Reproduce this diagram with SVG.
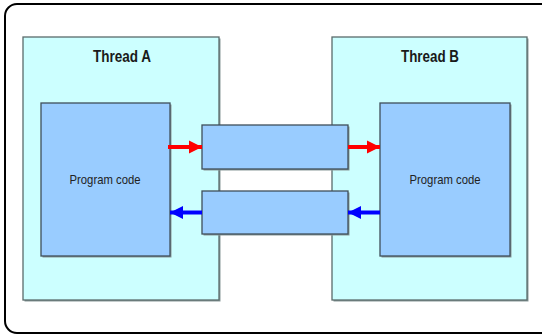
<svg xmlns="http://www.w3.org/2000/svg" width="542" height="335" viewBox="0 0 542 335">
  <style>
    .frame { fill: #ffffff; stroke: #000000; stroke-width: 2; }
    .thread { fill: #ccffff; stroke: #5a6b6b; stroke-width: 1.3; }
    .code { fill: #99ccff; stroke: #3f4f5a; stroke-width: 1.3; }
    .shadow { fill: #8a9a9a; }
    .title { font-family: "Liberation Sans", Arial, sans-serif; font-weight: bold; font-size: 16px; fill: #1a1a1a; text-anchor: middle; }
    .label { font-family: "Liberation Sans", Arial, sans-serif; font-size: 13px; fill: #222222; text-anchor: middle; }
    .red { stroke: #ff0000; stroke-width: 4; fill: none; }
    .blue { stroke: #0000ff; stroke-width: 4; fill: none; }
  </style>
  <defs>
    <marker id="headRed" viewBox="0 0 10 10" refX="10" refY="5" markerUnits="userSpaceOnUse" markerWidth="13" markerHeight="17" orient="auto">
      <path d="M0,0 L10,5 L0,10 z" fill="#ff0000"/>
    </marker>
    <marker id="headBlue" viewBox="0 0 10 10" refX="10" refY="5" markerUnits="userSpaceOnUse" markerWidth="13" markerHeight="17" orient="auto">
      <path d="M0,0 L10,5 L0,10 z" fill="#0000ff"/>
    </marker>
  </defs>

  <!-- outer frame -->
  <rect class="frame" x="5" y="4" width="550" height="329" rx="12" ry="12"/>

  <g id="threadA">
    <rect class="shadow" x="24.5" y="38.5" width="196" height="263"/>
    <rect class="thread" x="23" y="37" width="196" height="263"/>
    <text class="title" x="122" y="62" textLength="58" lengthAdjust="spacingAndGlyphs">Thread A</text>
  </g>

  <g id="threadB">
    <rect class="shadow" x="333.5" y="38.5" width="195" height="263"/>
    <rect class="thread" x="332" y="37" width="195" height="263"/>
    <text class="title" x="430" y="62" textLength="58" lengthAdjust="spacingAndGlyphs">Thread B</text>
  </g>

  <g id="codeA">
    <rect class="shadow" x="42.5" y="104.5" width="129" height="153"/>
    <rect class="code" x="41" y="103" width="129" height="153"/>
    <text class="label" x="105" y="184" textLength="71" lengthAdjust="spacingAndGlyphs">Program code</text>
  </g>

  <g id="codeB">
    <rect class="shadow" x="381.5" y="104.5" width="130" height="153"/>
    <rect class="code" x="380" y="103" width="130" height="153"/>
    <text class="label" x="445" y="184" textLength="71" lengthAdjust="spacingAndGlyphs">Program code</text>
  </g>

  <g id="queueAB">
    <rect class="shadow" x="203.5" y="126.5" width="146" height="44"/>
    <rect class="code" x="202" y="125" width="146" height="44"/>
  </g>

  <g id="queueBA">
    <rect class="shadow" x="203.5" y="192.5" width="146" height="43"/>
    <rect class="code" x="202" y="191" width="146" height="43"/>
  </g>

  <g id="connectors">
    <line class="red" x1="168" y1="147" x2="202" y2="147" marker-end="url(#headRed)"/>
    <line class="red" x1="348" y1="147" x2="380" y2="147" marker-end="url(#headRed)"/>
    <line class="blue" x1="380" y1="212.5" x2="348" y2="212.5" marker-end="url(#headBlue)"/>
    <line class="blue" x1="202" y1="212.5" x2="170" y2="212.5" marker-end="url(#headBlue)"/>
  </g>
</svg>
